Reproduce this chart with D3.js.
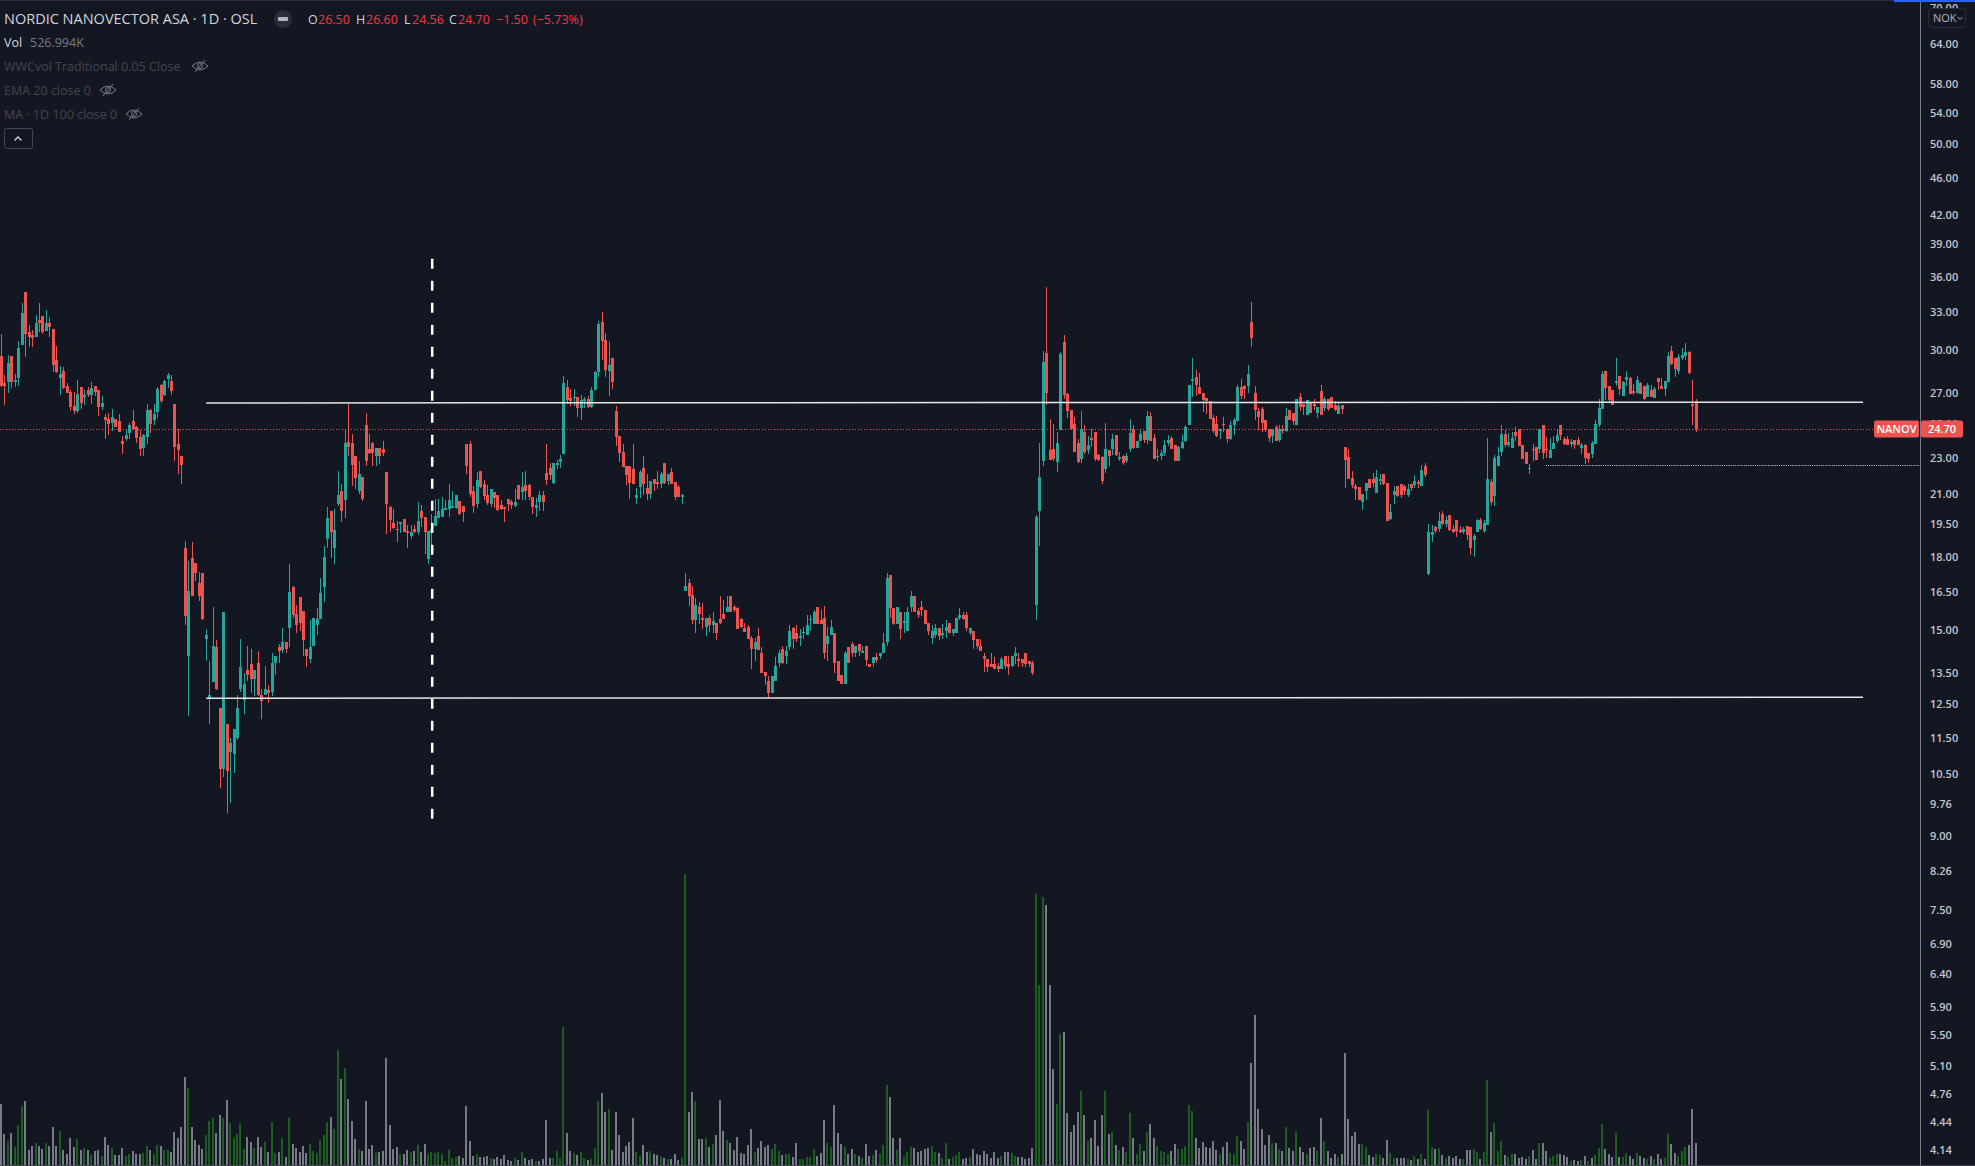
<!DOCTYPE html>
<html>
<head>
<meta charset="utf-8">
<script src="https://cdn.jsdelivr.net/npm/d3@7"></script>
<style>
html, body { margin: 0; padding: 0; background: #131722; overflow: hidden; }
svg { display: block; font-family: "Open Sans", sans-serif; }
</style>
</head>
<body>
<div id="chart"></div>
<script>
// daily candles
const opens = [
29.65,27.7,27.75,29.65,27.75,28.05,30.45,34.7,31.4,31.2,
31.05,32.4,32.7,31.55,32.15,31.7,29.3,28.05,28.55,27.5,
27.1,26.2,25.85,27.45,26.75,27.25,26.9,27.5,27.25,26.1,
25.45,25.35,25.1,25.35,25.2,24.0,24.1,24.45,25.2,24.85,
24.25,23.6,24.25,25.9,25.25,25.8,27.6,26.9,28.0,27.85,
26.3,23.8,23.1,18.4,14.1,17.95,17.75,16.9,17.3,14.7,
12.7,13.2,14.4,12.4,10.65,11.9,11.1,11.05,11.5,13.0,
12.65,13.6,13.8,13.3,13.85,12.8,12.8,12.95,12.9,13.85,
14.4,14.3,14.6,15.1,16.7,15.65,16.3,15.75,14.35,14.0,
14.45,15.2,15.45,16.7,18.85,20.2,18.4,20.55,21.2,20.75,
23.95,23.9,23.1,21.2,21.95,25.0,23.55,23.9,23.15,23.6,
23.5,22.2,20.4,19.6,19.3,19.55,19.8,19.2,18.95,19.3,
19.15,20.2,19.9,17.9,19.1,19.45,19.85,19.9,20.25,20.3,
20.35,20.35,20.7,20.45,23.8,23.85,21.2,20.55,22.3,21.6,
21.0,20.55,21.15,21.0,20.5,20.4,20.8,20.65,20.45,21.5,
21.15,21.5,21.5,20.9,20.35,20.65,21.0,22.15,22.45,21.65,
22.6,22.8,23.25,27.45,26.7,26.7,26.75,26.05,26.5,26.6,
26.1,27.25,28.5,32.25,30.8,28.55,29.5,25.85,24.3,23.35,
22.55,22.55,22.4,20.85,21.4,22.45,21.35,21.05,21.85,21.7,
21.6,22.7,21.75,22.25,21.7,21.4,20.9,16.55,16.9,16.4,
15.4,15.9,15.5,15.15,15.5,15.2,15.3,15.45,15.65,15.7,
16.35,15.9,15.85,15.45,15.1,15.15,14.75,14.35,14.8,14.2,
13.55,13.25,12.85,13.25,13.85,14.35,14.1,14.4,15.1,14.9,
14.75,14.9,14.85,15.4,15.25,15.9,15.4,15.5,14.5,14.85,
14.9,13.9,13.45,13.15,14.4,14.5,14.2,14.5,14.2,14.45,
13.8,13.85,14.05,14.1,14.2,14.6,17.2,15.85,15.25,15.7,
15.3,15.0,15.9,16.35,15.75,15.9,15.8,15.3,14.75,14.85,
15.1,14.85,15.0,15.3,14.9,14.9,15.5,15.6,15.6,14.9,
15.0,14.7,14.45,14.1,14.0,13.8,13.8,13.75,13.65,14.1,
13.8,13.75,14.1,14.0,14.0,14.2,13.9,13.85,16.0,20.2,
22.85,29.85,23.45,23.5,22.8,24.65,30.7,26.95,25.9,25.05,
23.9,22.95,24.55,23.45,24.2,24.55,23.2,23.05,22.4,23.45,
23.5,24.35,22.95,23.15,22.85,23.5,24.75,23.6,24.0,24.6,
24.05,25.55,24.2,23.05,23.1,23.3,23.9,24.2,23.75,22.85,
23.6,24.0,25.0,27.85,28.15,27.45,27.05,26.7,26.5,25.4,
25.05,24.6,25.05,24.7,24.1,25.0,25.2,27.45,27.5,27.5,
32.25,27.05,25.85,25.95,25.3,24.7,24.3,24.85,24.05,24.75,
24.6,25.9,25.7,25.0,26.75,26.3,25.6,26.35,26.3,25.7,
27.15,26.05,26.6,26.75,26.25,25.65,26.25,23.65,23.05,21.9,
21.45,21.4,20.65,21.2,21.85,21.85,21.1,21.75,22.1,21.65,
19.8,21.0,21.45,21.55,21.45,21.0,21.55,21.5,21.7,21.45,
22.55,17.25,19.0,19.4,19.3,20.05,19.55,20.0,19.3,19.75,
19.25,19.15,19.45,19.4,18.8,19.15,19.75,19.2,19.5,21.7,
20.95,22.55,23.35,24.4,23.75,23.6,24.55,24.7,23.75,23.35,
22.4,23.55,23.65,23.5,24.95,23.55,23.0,23.5,24.0,24.95,
24.1,24.1,23.8,24.05,24.05,23.6,23.75,23.3,23.25,23.8,
25.0,26.0,28.55,27.5,27.25,27.7,28.2,26.85,27.9,28.05,
27.15,27.05,27.7,27.5,26.75,27.25,26.7,28.05,27.5,27.3,
27.75,30.0,29.5,28.55,29.5,29.6,29.95,26.3,26.5]
const highs = [
31.3,28.25,29.7,29.65,28.3,30.75,33.75,34.7,32.0,31.6,
32.8,33.75,32.7,33.2,32.6,31.7,30.4,28.9,28.85,27.7,
27.25,27.1,27.9,27.45,27.2,27.45,27.75,27.5,27.25,26.85,
25.65,25.7,26.0,25.35,25.65,24.3,24.65,25.1,25.9,24.9,
24.65,24.4,26.3,26.0,26.3,27.45,27.65,27.9,28.4,28.25,
26.3,24.7,23.15,18.75,17.85,18.7,17.75,17.35,17.3,15.05,
13.9,15.9,14.65,12.4,15.7,11.9,11.5,11.75,12.8,14.7,
13.5,14.45,14.35,13.6,14.25,13.0,13.75,13.1,14.2,14.1,
14.5,15.1,14.6,17.7,16.75,16.0,16.3,15.75,14.35,15.4,
15.5,15.85,17.1,18.5,20.4,20.2,20.3,22.3,21.6,24.7,
26.3,24.4,23.1,22.85,21.95,25.7,24.4,23.95,23.6,23.6,
24.0,22.2,20.45,20.3,19.7,19.65,19.8,19.5,19.5,19.5,
20.65,20.5,19.9,19.2,20.05,20.8,20.8,20.9,20.75,21.55,
21.2,21.0,20.7,20.45,23.8,24.0,21.45,22.2,22.3,21.8,
21.5,21.3,21.15,21.0,20.75,20.4,20.8,20.75,21.3,21.5,
22.25,22.3,21.55,20.9,20.85,21.2,21.2,23.85,22.75,22.75,
22.9,23.2,28.2,27.9,27.3,27.3,26.75,26.9,26.75,26.85,
27.45,28.55,32.3,33.05,31.35,30.75,29.5,26.2,24.3,23.8,
22.55,22.55,23.8,21.35,22.35,23.1,22.1,21.75,21.85,22.3,
22.25,22.7,22.1,22.45,21.7,21.5,21.05,17.3,17.05,16.75,
16.25,16.1,16.05,15.5,15.6,15.7,15.3,16.35,16.2,16.35,
16.35,16.0,15.9,15.5,15.3,15.2,14.8,14.75,15.1,14.4,
13.55,13.4,13.4,14.05,14.3,14.45,14.45,15.2,15.15,15.2,
15.05,15.15,15.6,15.6,15.8,15.9,15.8,15.95,15.15,15.4,
14.9,13.9,13.45,14.25,14.4,14.6,14.45,14.5,14.45,14.45,
13.8,14.05,14.2,14.2,14.9,17.3,17.2,15.85,15.9,15.7,
15.7,15.9,16.55,16.35,15.85,16.15,15.8,15.3,15.2,15.25,
15.1,15.25,15.4,15.3,15.05,15.5,15.85,15.7,15.7,15.1,
15.0,14.7,14.7,14.2,14.0,14.2,14.05,13.85,14.05,14.1,
14.1,14.1,14.4,14.2,14.0,14.2,13.9,13.9,20.0,23.9,
30.0,35.15,25.35,25.05,24.55,29.95,31.2,27.05,25.9,25.45,
24.1,25.85,25.0,24.3,24.75,24.55,23.25,23.1,25.1,23.45,
24.4,24.35,23.35,23.2,23.3,25.35,25.0,24.0,24.65,24.6,
25.85,25.8,24.4,23.55,23.45,24.05,24.35,24.3,23.75,23.7,
24.35,24.95,27.6,29.5,28.6,28.4,27.05,26.7,26.5,25.6,
25.55,24.7,25.45,24.75,25.2,25.4,27.55,28.0,27.6,29.0,
33.85,27.5,26.05,26.1,25.3,24.7,24.75,25.0,24.95,24.95,
26.05,25.9,25.7,26.6,27.05,26.3,26.55,26.35,26.6,26.1,
27.55,26.75,26.6,26.75,26.5,26.35,26.25,23.65,23.5,22.3,
21.6,21.4,21.05,21.65,21.85,22.15,22.35,22.1,22.1,21.65,
20.55,21.45,21.45,21.55,21.5,21.55,21.55,22.05,21.8,22.6,
22.75,19.55,19.5,19.45,20.15,20.2,19.95,20.0,19.5,19.75,
19.45,19.4,19.45,19.4,19.05,19.8,19.85,19.75,24.15,21.85,
23.2,23.65,25.0,24.65,24.45,24.55,24.85,24.7,23.75,23.35,
22.65,23.8,23.65,24.7,24.95,24.25,24.15,24.3,24.7,24.95,
24.25,24.3,24.1,24.05,24.25,23.9,23.8,23.3,24.0,25.25,
26.6,28.55,28.55,27.5,27.25,29.5,28.2,27.85,28.55,28.15,
27.65,28.2,27.75,27.5,27.7,27.55,27.45,28.05,28.05,27.85,
29.95,30.4,29.5,29.8,30.25,30.6,30.0,27.9,26.6]
const lows = [
27.45,26.25,27.05,27.35,27.45,27.5,30.45,29.55,30.3,30.3,
31.05,31.45,31.3,31.55,31.05,28.5,28.4,26.9,27.3,27.05,
25.85,25.65,25.7,25.95,26.25,26.75,26.3,26.85,25.55,25.9,
24.1,24.35,24.6,24.85,24.55,23.25,24.0,24.1,24.65,23.9,
23.15,23.1,23.8,24.5,24.95,25.4,26.35,26.85,27.35,26.9,
22.85,22.1,21.6,15.2,12.15,16.35,16.95,16.15,15.4,13.9,
11.9,13.2,12.95,10.15,10.45,9.55,9.8,10.55,11.45,12.9,
12.2,13.25,12.85,12.75,12.75,12.05,12.8,12.55,12.75,13.45,
13.85,14.2,14.2,14.4,15.5,14.9,15.0,14.1,13.7,13.85,
14.45,14.85,15.45,16.1,18.4,17.95,17.7,20.45,19.65,19.85,
23.15,21.45,21.3,21.05,20.7,22.55,23.25,22.55,22.55,22.65,
23.1,19.05,19.15,19.3,18.7,19.1,19.15,18.4,18.85,19.1,
19.0,19.4,18.15,17.7,18.1,19.45,19.85,19.9,20.25,19.9,
20.35,20.3,20.0,19.65,22.1,20.9,20.1,20.35,21.35,20.75,
20.5,20.4,20.35,20.2,20.25,19.65,20.2,20.3,20.4,20.75,
20.75,20.75,20.75,20.05,19.9,20.2,20.2,21.5,21.8,21.6,
22.4,22.45,23.25,26.3,26.2,26.2,25.45,25.3,26.05,26.05,
26.05,27.25,28.15,29.3,28.15,26.85,27.3,23.7,22.8,22.5,
21.5,20.8,21.55,20.55,20.85,21.0,20.75,20.8,21.2,21.3,
21.35,21.6,21.5,21.55,20.75,20.9,20.55,16.55,15.95,15.25,
14.9,15.25,15.05,14.8,14.95,14.9,14.65,15.25,15.45,15.7,
15.7,15.7,15.05,15.1,14.95,14.7,13.65,13.9,14.3,13.5,
13.1,12.7,12.85,13.25,13.7,13.8,13.8,14.3,14.35,14.6,
14.45,14.7,14.85,15.0,15.25,15.25,15.25,14.0,13.9,14.85,
13.5,13.25,13.15,13.15,13.85,14.05,14.05,14.1,14.2,13.75,
13.7,13.7,13.85,14.0,14.2,14.45,15.5,15.2,15.25,14.7,
14.9,15.0,15.7,15.7,15.5,15.55,15.25,14.85,14.5,14.75,
14.65,14.7,14.75,14.9,14.8,14.9,15.4,15.4,15.0,14.85,
14.35,14.35,14.25,13.55,13.55,13.7,13.65,13.55,13.65,13.65,
13.45,13.7,13.8,13.7,13.7,13.7,13.7,13.45,15.4,18.5,
22.55,26.25,22.9,22.85,22.25,24.65,26.6,25.4,24.7,23.35,
22.75,22.75,23.25,23.25,23.65,22.85,22.85,21.6,22.15,22.55,
23.2,23.15,22.85,22.6,22.75,23.35,23.5,23.6,24.0,23.9,
23.8,24.0,22.95,22.85,22.9,23.15,23.7,23.5,22.85,22.85,
23.55,23.95,25.0,26.75,26.85,26.95,25.8,25.65,25.35,24.45,
24.25,24.1,24.55,23.9,24.05,24.35,25.2,26.6,26.6,27.05,
30.3,25.3,24.65,24.55,24.55,23.95,23.9,24.0,23.95,24.4,
24.55,25.25,24.95,25.0,25.85,25.6,25.6,25.7,25.9,25.4,
25.6,25.85,25.85,26.05,25.85,25.65,25.65,21.35,21.85,21.35,
20.75,20.75,20.25,20.75,21.35,21.4,21.1,21.5,21.5,19.7,
19.75,20.55,20.9,20.85,21.0,20.9,21.2,21.35,21.35,21.45,
21.95,17.2,18.7,19.1,19.15,19.5,19.4,19.2,19.1,18.9,
19.1,19.05,18.8,18.1,18.0,19.15,19.25,19.1,19.5,20.5,
20.45,22.55,23.15,23.65,23.65,23.6,24.0,23.7,22.95,22.65,
22.1,22.85,22.9,23.3,22.95,23.0,23.0,23.5,23.9,24.05,
23.75,23.75,23.65,23.55,23.75,23.25,22.65,22.75,23.0,23.8,
24.85,26.0,26.55,26.4,26.25,27.5,26.9,26.85,27.5,26.95,
26.9,26.95,26.95,26.55,26.75,26.75,26.7,27.25,27.3,26.85,
27.75,29.0,28.15,28.3,29.35,29.3,28.3,24.95,24.56]
const closes = [
27.5,27.5,29.15,27.75,27.9,30.2,32.95,31.3,31.05,31.0,
32.15,32.15,31.45,32.15,31.8,29.0,28.5,28.3,27.35,27.05,
26.1,25.85,26.95,26.4,26.9,26.9,27.35,27.1,26.1,26.35,
25.3,25.05,25.45,24.85,24.55,23.8,24.35,25.0,24.75,24.2,
23.5,24.35,25.9,25.05,25.65,27.3,26.5,27.85,28.25,27.15,
23.65,23.45,22.6,15.55,16.55,16.35,17.3,16.35,15.45,14.85,
12.8,14.45,13.0,10.65,15.7,10.6,11.35,11.75,12.4,13.7,
13.15,13.45,13.3,13.6,12.8,12.6,13.0,12.85,13.85,14.1,
14.25,14.6,14.35,16.5,15.6,15.2,15.3,14.65,14.1,14.4,
15.5,15.45,16.45,18.0,19.85,19.15,19.25,21.0,20.2,23.9,
23.65,22.6,21.9,22.1,20.8,22.85,23.3,23.3,23.6,23.15,
23.3,20.55,19.75,19.35,19.25,19.65,19.15,19.1,19.15,19.15,
19.7,19.85,19.15,19.2,19.3,19.95,20.2,20.3,20.35,20.75,
20.45,21.0,20.05,20.15,22.55,21.05,20.45,21.8,21.4,20.95,
20.6,21.3,20.85,20.25,20.3,20.3,20.55,20.5,20.65,20.8,
21.4,21.2,20.9,20.4,20.5,21.0,20.65,21.8,22.05,22.7,
22.7,22.95,27.7,26.55,26.5,26.75,26.05,26.55,26.6,26.1,
27.25,28.5,32.1,30.75,28.6,29.0,27.75,24.25,23.3,22.5,
22.05,21.65,21.6,21.0,22.25,21.55,21.05,21.75,21.6,21.55,
22.1,21.65,22.1,21.6,20.9,20.9,21.0,16.75,16.35,15.4,
16.0,15.65,15.4,15.5,15.2,15.35,14.9,15.3,15.45,15.9,
15.7,15.8,15.05,15.15,14.95,14.7,14.35,14.6,14.3,13.5,
13.4,12.85,13.4,13.75,14.2,13.85,14.25,15.0,14.7,14.7,
14.8,14.95,15.2,15.45,15.7,15.25,15.25,14.2,14.8,15.15,
13.85,13.25,13.15,14.2,13.85,14.2,14.45,14.25,14.25,13.95,
13.7,14.05,13.95,14.2,14.55,17.1,15.85,15.25,15.9,15.05,
15.35,15.7,16.35,15.7,15.6,15.8,15.25,15.0,15.0,15.1,
14.8,14.9,15.15,14.9,15.05,15.5,15.6,15.45,15.1,15.1,
14.65,14.45,14.25,14.0,13.7,13.7,13.65,13.65,14.0,13.75,
13.7,14.1,14.2,13.9,13.85,13.8,13.8,13.5,19.9,21.95,
29.2,27.05,22.9,22.95,23.9,29.8,26.9,25.85,24.75,23.35,
22.8,24.75,23.35,23.75,24.05,22.95,22.9,21.75,23.5,23.1,
24.1,23.2,23.05,22.7,23.15,24.45,23.6,24.0,24.4,24.05,
25.55,24.0,22.95,23.1,23.3,23.75,24.05,23.5,22.85,23.65,
23.95,24.85,27.6,28.0,27.6,26.95,26.55,26.5,25.35,24.6,
24.3,24.7,24.95,24.1,25.0,25.3,27.45,26.85,27.3,28.3,
30.95,25.9,25.45,25.1,24.65,24.2,24.7,24.0,24.7,24.6,
25.55,25.3,25.2,26.6,26.1,26.1,26.55,25.7,26.2,26.1,
25.6,26.6,25.95,26.05,25.9,26.2,25.95,22.9,21.85,21.5,
21.3,20.75,21.05,21.65,21.35,21.65,21.95,21.85,21.6,19.7,
20.15,21.2,20.95,21.0,21.2,21.3,21.35,21.75,21.55,22.35,
22.05,19.15,19.15,19.2,19.7,19.55,19.75,19.25,19.15,19.2,
19.15,19.3,19.0,18.4,18.95,19.75,19.3,19.6,21.85,20.65,
23.0,23.15,24.4,23.75,23.95,24.15,24.3,23.7,22.95,22.65,
22.45,23.5,22.9,24.7,23.3,23.45,23.45,23.9,24.35,24.35,
23.8,23.75,23.95,23.75,23.75,23.75,23.0,22.95,23.9,25.05,
26.05,28.3,27.35,26.55,26.25,27.85,27.3,27.8,28.15,26.95,
27.05,27.9,26.95,26.6,27.55,26.75,27.3,27.75,27.3,27.85,
29.6,29.05,28.7,29.55,29.7,29.95,28.4,26.2,24.7]

// volume in thousands of shares
const volumes = [
1464,744,576,768,432,960,1416,1536,360,456,
528,456,384,528,456,912,456,816,360,264,
648,432,624,360,408,360,240,336,360,216,
672,480,408,240,240,408,216,264,336,264,
264,288,456,360,264,480,456,360,360,312,
792,648,912,2112,1848,912,600,480,384,720,
1056,1128,768,1200,1128,1560,1008,648,744,1008,
384,672,552,408,672,432,552,312,1032,288,
312,648,192,1128,504,408,312,456,288,504,
336,288,600,720,1032,1152,864,2760,2064,2328,
1584,1056,624,384,336,1536,384,480,288,312,
336,2568,960,384,432,264,264,360,312,336,
480,312,504,264,312,288,312,264,96,360,
168,192,216,168,1416,576,216,264,192,192,
216,168,144,192,144,240,120,96,168,120,
312,168,120,144,96,96,144,1080,168,168,
336,168,3312,768,336,288,240,312,168,120,
144,408,1536,1728,1272,1344,360,1272,720,312,
456,552,1128,312,216,480,312,336,264,240,
216,168,144,144,264,120,168,6984,
1272,1752,1536,624,624,648,432,504,720,1560,
816,600,528,360,672,288,264,480,864,312,
408,576,432,480,384,504,336,240,264,264,
192,528,144,144,192,192,384,216,288,1080,
528,432,1440,768,504,432,264,384,264,216,
168,504,216,240,360,264,480,1920,1632,648,
360,648,192,312,432,408,312,336,384,408,
456,312,288,168,528,144,192,240,312,144,
168,192,384,264,240,336,264,168,312,168,
216,312,312,288,216,192,192,144,168,408,
6504,4320,6432,6240,4320,2304,1464,3144,3192,1248,
792,960,1272,1776,1200,576,648,1080,456,1200,
1776,744,792,480,360,432,312,1248,648,264,
504,336,792,984,648,456,336,312,264,336,
504,384,
384,456,1440,1296,648,408,552,432,408,576,
360,264,432,552,288,264,696,576,384,1032,
2448,3600,1344,864,480,720,528,528,384,336,
912,408,336,816,432,312,264,408,432,336,
1128,576,336,168,264,192,264,2688,1104,696,
792,504,504,432,240,192,264,240,168,600,
288,168,168,168,168,144,120,216,144,264,
144,1320,432,384,408,240,168,216,168,216,
144,144,360,360,384,312,144,312,2040,792,
1008,336,576,240,192,264,264,168,192,144,
216,360,144,528,528,336,168,216,264,264,
240,192,96,120,96,120,216,96,168,240,
408,984,384,264,192,768,192,192,288,216,
144,288,216,168,144,216,144,264,144,168,
744,504,288,216,336,432,480,1344,527]
// G green bar, W grey bar
const volumeSides = (
"WWGWGGGWWW"+"GWWGWWWGWW"+"WWGWGWGWWG"+"WWGWWWGGWW"+"WGGWGGWGGW"+
"WWWWGWWWWG"+"GGWWGWGGGG"+"GWWGWWGWGG"+"WGWGWWWWWG"+"GGGGGWGGWG"+
"WWWGWWWWGW"+"WWWWWGWWGW"+"GWWGGGGGGG"+"GGWWWWWGWW"+"WGWWWWWWGW"+
"GWWWGWWWWG"+"GGGWWGWGGW"+"GGGWWGWWWW"+"WWWGGWWGWW"+"GWGWWWG"+"G"+
"WWGWWGWGWW"+"WGWWWWWWWG"+"WWWWGGGWGG"+"WWGGGGGWWW"+"GGWWWGWWGW"+
"GWWGWGGGWW"+"GWGGGWWWWW"+"GGWGGWGGGW"+"WGWWWWWWWW"+"GWWGGWWWWW"+
"GGGWWWGGWW"+"WWWGWGWWWW"+"GWGWGWGGWG"+"GWGWWGGGGW"+"WG"+
"GGGGWWWWWW"+"WGWWGGGWWG"+"WWWWWWGWGW"+"GWWGWWGWWG"+"WGWWWGWWWW"+
"WWGGWWGGWW"+"GGWWWGWGWG"+"WGGWGWGWWW"+"WGWWGGWGGW"+"GGGWGGWWWW"+
"GWWGWWGGGW"+"WWGWWGWGWG"+"GGWWWGWGGW"+"WGWWGWGWWG"+"GWWGGGWWW").split("")

const priceTicks = [70,64,58,54,50,46,42,39,36,33,30,27,25,23,21,19.5,18,16.5,15,13.5,12.5,11.5,10.5,9.76,9,8.26,7.5,6.9,6.4,5.9,5.5,5.1,4.76,4.44,4.14]

// drawn on the chart: bar index and price at each end
const levelFrom = [59, 59]
const levelTo = [536, 536]
const levelStart = [26.37, 12.69]
const levelEnd = [26.42, 12.72]
const supportFrom = 444.7
const supportPrice = 22.6
const markerBar = 124
const markerTop = 37.7
const markerBottom = 9.41
const lastPrice = 24.7

const width = 1975
const height = 1166
const axisX = 1920
const bg = "#131722"
const red = "#ef5350"
const green = "#26a69a"

const x = d3.scaleLinear().domain([0, opens.length - 1]).range([1.3, 1696.3])
const y = d3.scaleLog().domain([64, 4.14]).range([45, 1150.5])
const yVol = d3.scaleLinear().domain([0, 7008]).range([1165, 873])

const svg = d3.select("#chart").append("svg")
    .attr("width", width)
    .attr("height", height)
svg.append("rect").attr("width", width).attr("height", height).attr("fill", bg)

const bars = d3.range(opens.length)

// volume
svg.append("g").selectAll("rect")
    .data(bars)
    .join("rect")
        .attr("x", i => Math.floor(x(i)) - 1)
        .attr("width", 2)
        .attr("y", i => Math.round(yVol(volumes[i])))
        .attr("height", i => 1165 - Math.round(yVol(volumes[i])))
        .attr("fill", i => volumeSides[i] == "G" ? "#1b5e20" : "#787b86")

// last price line
svg.append("line")
    .attr("x1", 0).attr("x2", 1874)
    .attr("y1", Math.floor(y(lastPrice)) + 0.5).attr("y2", Math.floor(y(lastPrice)) + 0.5)
    .attr("stroke", red).attr("stroke-dasharray", "1 2")

// candles
const candleColor = i => closes[i] >= opens[i] ? green : red
svg.append("g").selectAll("rect")
    .data(bars)
    .join("rect")
        .attr("x", i => Math.floor(x(i)))
        .attr("width", 1)
        .attr("y", i => Math.round(y(highs[i])))
        .attr("height", i => Math.max(1, Math.round(y(lows[i])) - Math.round(y(highs[i]))))
        .attr("fill", candleColor)
svg.append("g").selectAll("rect")
    .data(bars)
    .join("rect")
        .attr("x", i => Math.floor(x(i)) - 1)
        .attr("width", 3)
        .attr("y", i => Math.round(y(Math.max(opens[i], closes[i]))))
        .attr("height", i => Math.max(1, Math.round(y(Math.min(opens[i], closes[i]))) - Math.round(y(Math.max(opens[i], closes[i])))))
        .attr("fill", candleColor)

// drawn lines
svg.append("g").selectAll("line")
    .data(levelFrom)
    .join("line")
        .attr("x1", (d, i) => x(levelFrom[i]))
        .attr("x2", (d, i) => x(levelTo[i]))
        .attr("y1", (d, i) => y(levelStart[i]))
        .attr("y2", (d, i) => y(levelEnd[i]))
        .attr("stroke", "#e6e6e6")
        .attr("stroke-width", 1.5)
svg.append("line")
    .attr("x1", x(supportFrom)).attr("x2", axisX)
    .attr("y1", Math.floor(y(supportPrice)) + 0.5).attr("y2", Math.floor(y(supportPrice)) + 0.5)
    .attr("stroke", "#d1d4dc").attr("stroke-dasharray", "1 1.2")
svg.append("line")
    .attr("x1", x(markerBar) + 0.2).attr("x2", x(markerBar) + 0.2)
    .attr("y1", y(markerTop)).attr("y2", y(markerBottom))
    .attr("stroke", "#fff").attr("stroke-width", 2.5).attr("stroke-dasharray", "10 12")

// price axis
svg.append("line")
    .attr("x1", axisX + 0.5).attr("x2", axisX + 0.5)
    .attr("y1", 2).attr("y2", height)
    .attr("stroke", "#787b86")
const axis = svg.append("g")
    .attr("transform", "translate(" + (axisX + 1) + ",0)")
    .call(d3.axisRight(y).tickValues(priceTicks).tickFormat(d3.format(".2f")).tickSize(0).tickPadding(9))
axis.select(".domain").remove()
axis.selectAll("text")
    .attr("dy", "0.27em")
    .attr("fill", "#c3c6ce")
    .style("font-size", "11px")
    .style("font-weight", "600")
    .style("font-family", "'Open Sans', sans-serif")

// frame lines
svg.append("line").attr("x1", 0).attr("x2", width).attr("y1", 0.5).attr("y2", 0.5).attr("stroke", "#2a2e39")
svg.append("rect").attr("x", 1894).attr("y", 0).attr("width", 81).attr("height", 2).attr("fill", "#2962ff")
svg.append("line").attr("x1", 0).attr("x2", width).attr("y1", 1165.5).attr("y2", 1165.5).attr("stroke", "#434651")

// last price labels
const labelY = Math.round(y(lastPrice)) - 8.5
svg.append("rect").attr("x", 1874).attr("y", labelY).attr("width", 45).attr("height", 17).attr("rx", 2).attr("fill", red)
svg.append("rect").attr("x", axisX + 1).attr("y", labelY).attr("width", 42).attr("height", 17).attr("rx", 2).attr("fill", red)
const labelText = (tx, s) => svg.append("text")
    .attr("x", tx).attr("y", labelY + 12.5)
    .attr("text-anchor", "middle")
    .attr("fill", "#fff")
    .style("font-size", "11px")
    .style("font-weight", "600")
    .text(s)
labelText(1896.5, "NANOV")
labelText(1942, "24.70")

// currency button
svg.append("rect").attr("x", 1928.5).attr("y", 8.5).attr("width", 37).attr("height", 19).attr("rx", 3)
    .attr("fill", bg).attr("stroke", "#2a2e39")
svg.append("text").attr("x", 1933).attr("y", 22).attr("fill", "#b2b5be").style("font-size", "11px").text("NOK")
svg.append("path").attr("d", "M1957.5 17l2.5 2.5l2.5 -2.5").attr("fill", "none").attr("stroke", "#b2b5be")

// legend
function legend(tx, ty, s, color, size) {
    return svg.append("text")
        .attr("x", tx).attr("y", ty)
        .attr("fill", color)
        .style("font-size", (size || 12.5) + "px")
        .text(s)
}
function eye(cx, cy) {
    svg.append("path")
        .attr("d", "M" + (cx - 8) + " " + cy + "q8 -8 16 0q-8 8 -16 0M" + (cx - 5) + " " + (cy + 6) + "l10 -12")
        .attr("fill", "none")
        .attr("stroke", "#787b86")
    svg.append("circle").attr("cx", cx).attr("cy", cy).attr("r", 2.5).attr("fill", "none").attr("stroke", "#787b86")
}
legend(4, 24, "NORDIC NANOVECTOR ASA · 1D · OSL", "#d1d4dc", 14.5)
svg.append("circle").attr("cx", 283).attr("cy", 19).attr("r", 9).attr("fill", "#2a2e39")
svg.append("rect").attr("x", 278).attr("y", 17).attr("width", 10).attr("height", 4).attr("rx", 1).attr("fill", "#b2b5be")
const ohlcLabels = ["O", "H", "L", "C"]
const ohlcLabelX = [308, 356, 404, 449]
const ohlcValues = ["26.50", "26.60", "24.56", "24.70"]
const ohlcValueX = [318, 366, 412, 458]
ohlcLabels.forEach((d, i) => {
    legend(ohlcLabelX[i], 24, d, "#d1d4dc")
    legend(ohlcValueX[i], 24, ohlcValues[i], "#f23645")
})
legend(496, 24, "−1.50", "#f23645")
legend(533, 24, "(−5.73%)", "#f23645")
legend(4, 47, "Vol", "#d1d4dc")
legend(30, 47, "526.994K", "#787b86")
legend(4, 71, "WWCvol Traditional 0.05 Close", "#434651")
eye(200, 66)
legend(4, 95, "EMA 20 close 0", "#434651")
eye(108, 90)
legend(4, 119, "MA · 1D 100 close 0", "#434651")
eye(134, 114)
svg.append("rect").attr("x", 4.5).attr("y", 128.5).attr("width", 28).attr("height", 20).attr("rx", 2)
    .attr("fill", "none").attr("stroke", "#434651")
svg.append("path").attr("d", "M14.5 140.5l3.5 -3.5l3.5 3.5").attr("fill", "none").attr("stroke", "#d1d4dc").attr("stroke-width", 1.4)
</script>
</body>
</html>
